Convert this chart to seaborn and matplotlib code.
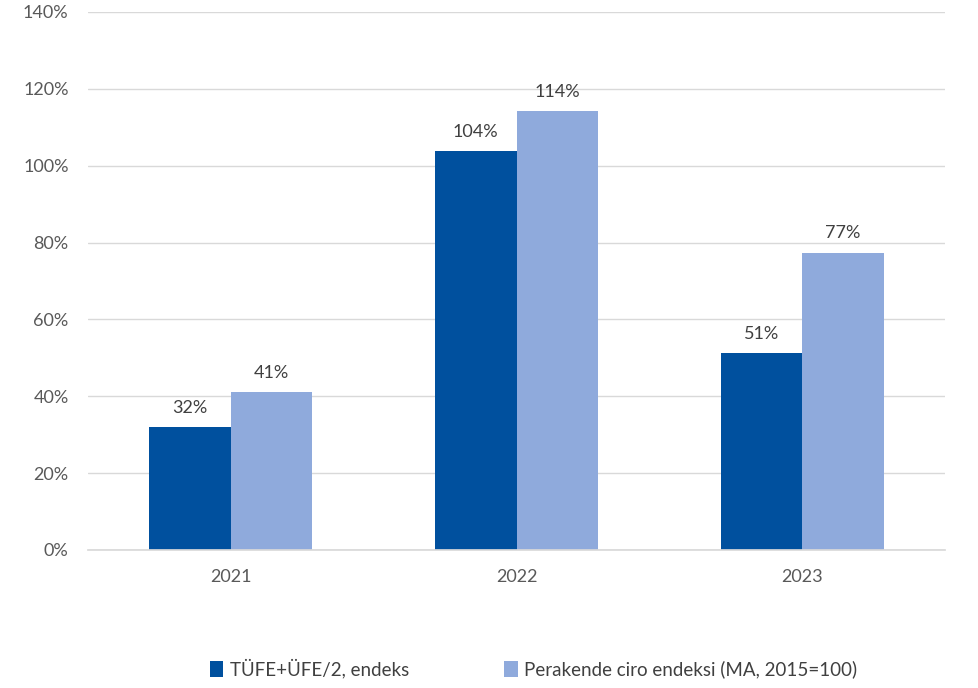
import matplotlib
matplotlib.use("Agg")
import matplotlib.pyplot as plt
import seaborn as sns
import pandas as pd
from matplotlib.patches import Patch

years = ["2021", "2022", "2023"]
series_names = ["TÜFE+ÜFE/2, endeks", "Perakende ciro endeksi (MA, 2015=100)"]
tufe_ufe = [32.0, 103.8, 51.3]
perakende = [41.2, 114.3, 77.4]
yticks = [0, 20, 40, 60, 80, 100, 120, 140]
colors = ["#00509E", "#8FAADC"]

df = pd.DataFrame({
    "Yıl": years * 2,
    "Seri": [series_names[0]] * 3 + [series_names[1]] * 3,
    "Değer": tufe_ufe + perakende,
})

sns.set_theme(style="white")
plt.rcParams['font.family'] = ['Lato', 'DejaVu Sans']

fig = plt.figure(figsize=(9.79, 6.88), dpi=100)
ax = fig.add_axes([0.0899, 0.2006, 0.8754, 0.782])

sns.barplot(data=df, x="Yıl", y="Değer", hue="Seri", palette=colors,
            width=0.57, gap=0, ax=ax, legend=False, saturation=1, linewidth=0)

for cont in ax.containers:
    ax.bar_label(cont, labels=[f"{v:.0f}%" for v in cont.datavalues],
                 padding=8, fontsize=13, color="#404040")

ax.set_ylim(0, 140)
ax.set_yticks(yticks)
ax.set_yticklabels([f"{v}%" for v in yticks], fontsize=13, color="#595959")
ax.tick_params(axis="x", labelsize=13, labelcolor="#595959", length=0, pad=14)
ax.tick_params(axis="y", length=0, pad=14)
ax.set_xlabel("")
ax.set_ylabel("")
ax.set_xlim(-0.5, 2.5)
ax.grid(axis="y", color="#D9D9D9", linewidth=1)
ax.set_axisbelow(True)
for s in ["top", "right", "left"]:
    ax.spines[s].set_visible(False)
ax.spines["bottom"].set_color("#D9D9D9")

handles = [Patch(facecolor=c, edgecolor="none") for c in colors]
fig.legend(handles, series_names, loc="center", bbox_to_anchor=(0.545, 0.028),
           ncol=2, frameon=False, fontsize=13.5, handlelength=0.7, handleheight=0.9,
           handletextpad=0.35, columnspacing=5.1, labelcolor="#404040")

fig.savefig("out.png", dpi=100)
